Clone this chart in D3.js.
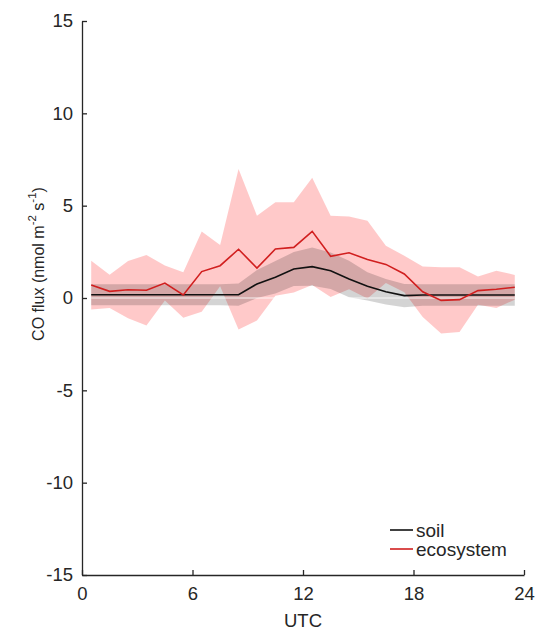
<!DOCTYPE html>
<html>
<head>
<meta charset="utf-8">
<script src="https://cdn.jsdelivr.net/npm/d3@7"></script>
<style>
  html, body { margin: 0; padding: 0; background: #fff; }
  svg { display: block; font-family: "Liberation Sans", Arial, Helvetica, sans-serif; }
</style>
</head>
<body>
<svg id="chart" width="538" height="630"></svg>
<script>
// Hourly means (UTC, half-hour centres) and spread, CO flux in nmol m-2 s-1
const hours = [0.5, 1.5, 2.5, 3.5, 4.5, 5.5, 6.5, 7.5, 8.5, 9.5, 10.5, 11.5,
               12.5, 13.5, 14.5, 15.5, 16.5, 17.5, 18.5, 19.5, 20.5, 21.5, 22.5, 23.5];

const soilMean = [0.18, 0.18, 0.18, 0.18, 0.18, 0.18, 0.18, 0.18, 0.18, 0.76, 1.12, 1.57,
                  1.70, 1.48, 1.03, 0.63, 0.34, 0.13, 0.16, 0.16, 0.16, 0.16, 0.16, 0.16];
const soilSd   = [0.57, 0.57, 0.57, 0.57, 0.57, 0.57, 0.57, 0.57, 0.60, 0.76, 0.88, 0.92,
                  1.04, 0.99, 0.99, 0.76, 0.69, 0.63, 0.58, 0.58, 0.58, 0.58, 0.58, 0.58];

const ecoMean  = [0.70, 0.36, 0.45, 0.42, 0.81, 0.16, 1.43, 1.75, 2.64, 1.62, 2.65, 2.74,
                  3.61, 2.26, 2.45, 2.08, 1.82, 1.30, 0.34, -0.13, -0.09, 0.40, 0.47, 0.58];
const ecoSd    = [1.32, 0.90, 1.55, 1.91, 0.95, 1.23, 2.17, 1.12, 4.34, 2.84, 2.53, 2.44,
                  2.90, 2.20, 1.97, 2.11, 1.01, 0.99, 1.37, 1.79, 1.75, 0.77, 1.01, 0.67];

const xTicks = [0, 6, 12, 18, 24];
const yTicks = [-15, -10, -5, 0, 5, 10, 15];

const seriesNames = ["soil", "ecosystem"];
const lineColors = ["#111111", "#d11f1f"];
const bandColors = ["rgba(0,0,0,0.17)", "rgba(255,0,0,0.21)"];

const svg = d3.select("#chart");

const x = d3.scaleLinear().domain([0, 24]).range([82, 524]);
const y = d3.scaleLinear().domain([-15, 15]).range([575, 21]);

const soil = hours.map((h, i) => ({ h, m: soilMean[i], s: soilSd[i] }));
const eco = hours.map((h, i) => ({ h, m: ecoMean[i], s: ecoSd[i] }));

const band = d3.area()
  .x(d => x(d.h))
  .y0(d => y(d.m - d.s))
  .y1(d => y(d.m + d.s));

const line = d3.line()
  .x(d => x(d.h))
  .y(d => y(d.m));

// Spread bands
svg.append("path").datum(eco).attr("d", band).attr("fill", bandColors[1]);
svg.append("path").datum(soil).attr("d", band).attr("fill", bandColors[0]);

// Thin seam along zero through the shaded bands
svg.append("line")
  .attr("x1", x(hours[0])).attr("x2", x(hours[hours.length - 1]))
  .attr("y1", y(0)).attr("y2", y(0))
  .attr("stroke", "#ffffff").attr("stroke-width", 1).attr("opacity", 0.85);

// Mean lines
svg.append("path").datum(soil).attr("d", line)
  .attr("fill", "none").attr("stroke", lineColors[0]).attr("stroke-width", 1.6);
svg.append("path").datum(eco).attr("d", line)
  .attr("fill", "none").attr("stroke", lineColors[1]).attr("stroke-width", 1.6);

// Axes (plain hyphen for negative tick labels)
const fmt = d => String(d);
const axisColor = "#262626";
const xAxis = svg.append("g")
  .attr("transform", `translate(0,${y(-15)})`)
  .call(d3.axisBottom(x).tickValues(xTicks).tickFormat(fmt)
    .tickSizeInner(-5).tickSizeOuter(0).tickPadding(12));
const yAxis = svg.append("g")
  .attr("transform", `translate(${x(0)},0)`)
  .call(d3.axisLeft(y).tickValues(yTicks).tickFormat(fmt)
    .tickSizeInner(-5).tickSizeOuter(0).tickPadding(9));

[xAxis, yAxis].forEach(g => {
  g.select(".domain").attr("stroke", axisColor).attr("stroke-width", 1.3);
  g.selectAll(".tick line").attr("stroke", axisColor).attr("stroke-width", 1.3);
  g.selectAll(".tick text").attr("fill", "#262626").attr("font-size", 18.5)
    .attr("font-family", "Liberation Sans, Arial, sans-serif");
});

// Axis titles
svg.append("text")
  .attr("x", x(12)).attr("y", 627)
  .attr("text-anchor", "middle")
  .attr("font-size", 18.5).attr("fill", "#262626")
  .text("UTC");

const yLabel = svg.append("text")
  .attr("transform", "translate(44,264) rotate(-90)")
  .attr("text-anchor", "middle")
  .attr("font-size", 16).attr("fill", "#262626");
yLabel.append("tspan").text("CO flux (nmol m");
yLabel.append("tspan").attr("dy", -8).attr("font-size", 11.5).text("-2");
yLabel.append("tspan").attr("dy", 8).text(" s");
yLabel.append("tspan").attr("dy", -8).attr("font-size", 11.5).text("-1");
yLabel.append("tspan").attr("dy", 8).text(")");

// Legend
const legend = svg.append("g");
const legendY = [530, 549];
seriesNames.forEach((name, i) => {
  legend.append("line")
    .attr("x1", 390).attr("x2", 413)
    .attr("y1", legendY[i]).attr("y2", legendY[i])
    .attr("stroke", lineColors[i]).attr("stroke-width", 1.6);
  legend.append("text")
    .attr("x", 416).attr("y", legendY[i]).attr("dy", "0.35em")
    .attr("font-size", 19).attr("fill", "#262626")
    .text(name);
});
</script>
</body>
</html>
